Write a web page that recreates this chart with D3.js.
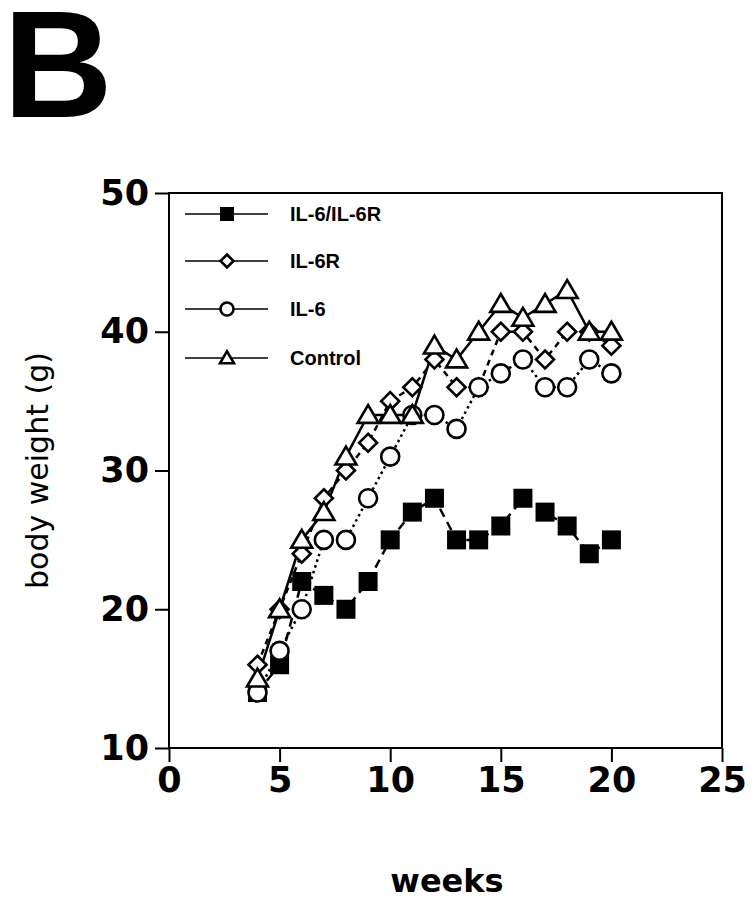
<!DOCTYPE html>
<html>
<head>
<meta charset="utf-8">
<script src="https://cdn.jsdelivr.net/npm/d3@7"></script>
<style>
  body { margin: 0; background: #fff; }
  svg { display: block; }
</style>
</head>
<body>
<svg id="chart" width="755" height="899"></svg>
<script>
// data
var weeks = [4,5,6,7,8,9,10,11,12,13,14,15,16,17,18,19,20]
var il6il6r = [14,16,22,21,20,22,25,27,28,25,25,26,28,27,26,24,25]
var il6r    = [16,20,24,28,30,32,35,36,38,36,36,40,40,38,40,40,39]
var il6     = [14,17,20,25,25,28,31,34,34,33,36,37,38,36,36,38,37]
var control = [15,20,25,27,31,34,34,34,39,38,40,42,41,42,43,40,40]
var xTicks = [0,5,10,15,20,25]
var yTicks = [10,20,30,40,50]
var names = ["IL-6/IL-6R","IL-6R","IL-6","Control"]

var svg = d3.select("#chart")

var x = d3.scaleLinear().domain([0,25]).range([169,722])
var y = d3.scaleLinear().domain([10,50]).range([748,193])

// panel letter
svg.append("text")
  .attr("x",3).attr("y",117)
  .style("font-family","Liberation Sans, Arial, sans-serif")
  .style("font-weight","bold")
  .style("font-size","152px")
  .text("B")

// frame
svg.append("rect")
  .attr("x",x(0)).attr("y",y(50))
  .attr("width",x(25)-x(0)).attr("height",y(10)-y(50))
  .attr("fill","none").attr("stroke","#000").attr("stroke-width",2)

var tickFont = function(g){
  g.select(".domain").remove()
  g.selectAll("line").attr("stroke","#000").attr("stroke-width",2)
  g.selectAll("text")
    .style("font-family","DejaVu Sans, sans-serif")
    .style("font-weight","bold")
    .style("font-size","35px")
    .attr("fill","#000")
}

svg.append("g")
  .attr("transform","translate(0,"+y(10)+")")
  .call(d3.axisBottom(x).tickValues(xTicks).tickSize(14).tickPadding(5).tickFormat(d3.format("d")))
  .call(tickFont)

svg.append("g")
  .attr("transform","translate("+x(0)+",0)")
  .call(d3.axisLeft(y).tickValues(yTicks).tickSize(14).tickPadding(6).tickFormat(d3.format("d")))
  .call(tickFont)

// axis titles
svg.append("text")
  .attr("transform","translate(37,"+((y(10)+y(50))/2)+") rotate(-90)")
  .attr("text-anchor","middle")
  .attr("dominant-baseline","central")
  .style("font-family","DejaVu Sans, sans-serif")
  .style("font-size","30px")
  .text("body weight (g)")

svg.append("text")
  .attr("x",447).attr("y",892)
  .attr("text-anchor","middle")
  .style("font-family","DejaVu Sans, sans-serif")
  .style("font-weight","bold")
  .style("font-size","32px")
  .text("weeks")

// marker drawing
function marker(g, kind, size){
  if(kind=="square"){
    g.append("rect").attr("x",-size/2).attr("y",-size/2)
      .attr("width",size).attr("height",size).attr("fill","#000")
  } else if(kind=="diamond"){
    var h = size/2
    g.append("path").attr("d","M0,"+(-h)+"L"+h+",0L0,"+h+"L"+(-h)+",0Z")
      .attr("fill","#fff").attr("stroke","#000").attr("stroke-width",2.6)
  } else if(kind=="circle"){
    g.append("circle").attr("r",size/2)
      .attr("fill","#fff").attr("stroke","#000").attr("stroke-width",2.6)
  } else {
    var w = size/2
    g.append("path").attr("d","M0,"+(-w*0.95)+"L"+w+","+(w*0.75)+"L"+(-w)+","+(w*0.75)+"Z")
      .attr("fill","#fff").attr("stroke","#000").attr("stroke-width",2.6)
      .attr("stroke-linejoin","miter")
  }
}

var series = [
  {vals: il6il6r, kind: "square",  size: 19, dash: "9,6"},
  {vals: il6r,    kind: "diamond", size: 18, dash: "6,5"},
  {vals: il6,     kind: "circle",  size: 18, dash: "2.5,3.5"},
  {vals: control, kind: "triangle",size: 21, dash: null}
]

var line = d3.line().x(function(d,i){ return x(weeks[i])}).y(function(d){ return y(d)})

series.forEach(function(s){
  var p = svg.append("path")
    .datum(s.vals)
    .attr("d",line)
    .attr("fill","none")
    .attr("stroke","#000")
    .attr("stroke-width",2.5)
  if(s.dash) p.attr("stroke-dasharray",s.dash)
})

series.forEach(function(s){
  svg.selectAll(null)
    .data(s.vals)
    .enter()
    .append("g")
    .attr("transform",function(d,i){ return "translate("+x(weeks[i])+","+y(d)+")"})
    .each(function(){ marker(d3.select(this), s.kind, s.size) })
})

// legend
var lg = svg.append("g")
var rows = [214,261,309,358]
names.forEach(function(n,i){
  lg.append("line")
    .attr("x1",185).attr("x2",268)
    .attr("y1",rows[i]).attr("y2",rows[i])
    .attr("stroke","#000").attr("stroke-width",1.6)
  var m = lg.append("g").attr("transform","translate(227,"+rows[i]+")")
  marker(m, series[i].kind, [14,13,13,14][i])
  lg.append("text")
    .attr("x",290).attr("y",rows[i])
    .attr("dominant-baseline","central")
    .style("font-family","Liberation Sans, Arial, sans-serif")
    .style("font-weight","bold")
    .style("font-size","20px")
    .text(n)
})
</script>
</body>
</html>
